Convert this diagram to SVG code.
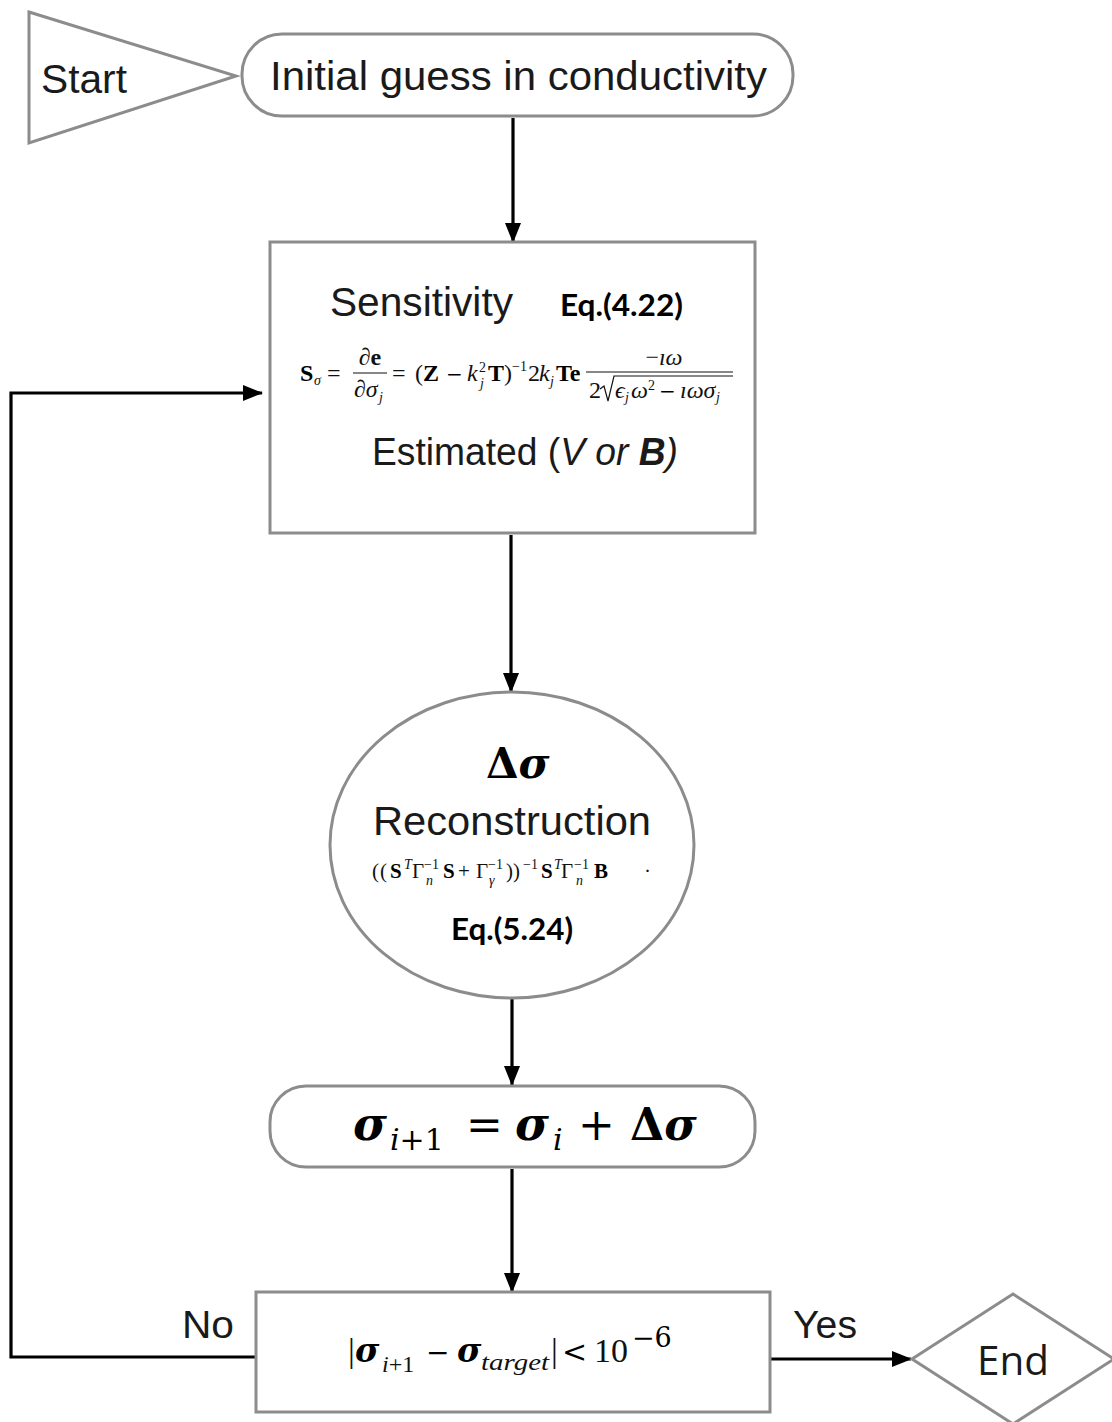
<svg xmlns="http://www.w3.org/2000/svg" width="1112" height="1422" viewBox="0 0 1112 1422">
<defs>
<marker id="ah" markerUnits="userSpaceOnUse" markerWidth="20" markerHeight="16" refX="19" refY="8" orient="auto">
<path d="M0,0 L20,8 L0,16 z" fill="#000"/>
</marker>
<style>
.shape{fill:#fff;stroke:#8c8c8c;stroke-width:3}
.conn{fill:none;stroke:#000;stroke-width:3.2;marker-end:url(#ah)}
.lbl{font-family:"Liberation Sans",Arial,sans-serif;fill:#1a1a1a}
.eq{font-family:Lato,"Liberation Sans",sans-serif;font-weight:bold;fill:#000}
.m{font-family:"Liberation Serif","DejaVu Serif",serif;fill:#111}
.mb{font-family:"Liberation Serif","DejaVu Serif",serif;font-weight:bold;fill:#000}
.d{font-family:"DejaVu Serif","Liberation Serif",serif;fill:#000}
.dbi{font-family:"DejaVu Serif","Liberation Serif",serif;font-weight:bold;font-style:italic;fill:#000}
.it{font-style:italic}
.b{font-weight:bold}
</style>
</defs>
<rect width="1112" height="1422" fill="#fff"/>

<g id="connectors">
<path class="conn" d="M513,118 V242"/>
<path class="conn" d="M511,535 V692"/>
<path class="conn" d="M512,998 V1085"/>
<path class="conn" d="M512,1169 V1292"/>
<path class="conn" d="M260,1357 H11 V393 H262"/>
<path class="conn" d="M767,1359 H911"/>
<text class="lbl" x="182" y="1338" font-size="39" textLength="52" lengthAdjust="spacingAndGlyphs">No</text>
<text class="lbl" x="793" y="1338" font-size="39" textLength="64" lengthAdjust="spacingAndGlyphs">Yes</text>
</g>

<g id="start">
<polygon class="shape" points="29,12 236,76 29,143"/>
<text class="lbl" x="41" y="93" font-size="40" textLength="86" lengthAdjust="spacingAndGlyphs">Start</text>
</g>

<g id="initial">
<rect class="shape" x="242" y="34" width="551" height="82" rx="40"/>
<text class="lbl" x="270" y="90" font-size="41" textLength="497" lengthAdjust="spacingAndGlyphs">Initial guess in conductivity</text>
</g>

<g id="sensitivity">
<rect class="shape" x="270" y="242" width="485" height="291"/>
<text class="lbl" x="330" y="316" font-size="40" textLength="183" lengthAdjust="spacingAndGlyphs">Sensitivity</text>
<text class="eq" x="560" y="316" font-size="31" textLength="123" lengthAdjust="spacingAndGlyphs">Eq.(4.22)</text>
<g font-size="24">
<text class="mb" x="300" y="381">S</text>
<text class="m it" x="314" y="385" font-size="14">σ</text>
<text class="m" x="327" y="381">=</text>
<text class="m" x="370" y="365" text-anchor="middle">∂<tspan class="b" font-style="normal">e</tspan></text>
<line x1="353" y1="373" x2="387" y2="373" stroke="#111" stroke-width="1.2"/>
<text class="m" x="354" y="397">∂<tspan class="it">σ</tspan></text>
<text class="m it" x="379" y="402" font-size="14">j</text>
<text class="m" x="392" y="381">=</text>
<text class="m" x="415" y="381">(</text>
<text class="mb" x="423" y="381">Z</text>
<text class="d" x="446" y="381" font-size="20">−</text>
<text class="m it" x="467" y="381">k</text>
<text class="m" x="479" y="372" font-size="14">2</text>
<text class="m it" x="480" y="388" font-size="14">j</text>
<text class="mb" x="488" y="381">T</text>
<text class="m" x="504" y="381">)</text>
<text class="m" x="512" y="371" font-size="14">−1</text>
<text class="m" x="528" y="381">2</text>
<text class="m it" x="539" y="381">k</text>
<text class="m it" x="550" y="386" font-size="14">j</text>
<text class="mb" x="556" y="381">Te</text>
<text class="m" x="664" y="365" text-anchor="middle">−<tspan class="it">ıω</tspan></text>
<line x1="586" y1="372" x2="733" y2="372" stroke="#111" stroke-width="1.2"/>
<text class="m" x="589" y="398">2</text>
<path d="M600,389 L604,386 L608,401 L614,376 H733" fill="none" stroke="#111" stroke-width="1.2"/>
<text class="m it" x="615" y="398">ϵ</text>
<text class="m it" x="625" y="402" font-size="14">j</text>
<text class="m it" x="631" y="398">ω</text>
<text class="m" x="648" y="390" font-size="14">2</text>
<text class="d" x="659" y="398" font-size="20">−</text>
<text class="m it" x="680" y="398">ıωσ</text>
<text class="m it" x="716" y="402" font-size="14">j</text>
</g>
<text class="lbl" x="372" y="465" font-size="38" textLength="306" lengthAdjust="spacingAndGlyphs">Estimated (<tspan class="it">V or </tspan><tspan class="it b">B</tspan><tspan class="it">)</tspan></text>
</g>

<g id="reconstruction">
<ellipse class="shape" cx="512" cy="845" rx="182" ry="153"/>
<text class="dbi" x="486" y="778" font-size="42"><tspan font-style="normal">Δ</tspan>σ</text>
<text class="lbl" x="373" y="835" font-size="41" textLength="278" lengthAdjust="spacingAndGlyphs">Reconstruction</text>
<g font-size="21">
<text class="m" x="372" y="878">(</text>
<text class="m" x="380" y="878">(</text>
<text class="mb" x="390" y="878">S</text>
<text class="m it" x="404" y="869" font-size="14">T</text>
<text class="m" x="412" y="878">Γ</text>
<text class="m" x="424" y="869" font-size="14">−1</text>
<text class="m it" x="426" y="885" font-size="14">n</text>
<text class="mb" x="443" y="878">S</text>
<text class="m" x="458" y="878">+</text>
<text class="m" x="476" y="878">Γ</text>
<text class="m" x="488" y="869" font-size="14">−1</text>
<text class="m it" x="489" y="885" font-size="14">γ</text>
<text class="m" x="506" y="878">))</text>
<text class="m" x="523" y="869" font-size="14">−1</text>
<text class="mb" x="541" y="878">S</text>
<text class="m it" x="554" y="869" font-size="14">T</text>
<text class="m" x="561" y="878">Γ</text>
<text class="m" x="574" y="869" font-size="14">−1</text>
<text class="m it" x="576" y="885" font-size="14">n</text>
<text class="mb" x="594" y="878">B</text>
<text class="m" x="644" y="878" fill="#999">·</text>
</g>
<text class="eq" x="451" y="940" font-size="31" textLength="122" lengthAdjust="spacingAndGlyphs">Eq.(5.24)</text>
</g>

<g id="update">
<rect class="shape" x="270" y="1086" width="485" height="81" rx="36"/>
<text class="dbi" x="353" y="1140" font-size="46">σ</text>
<text class="d it" x="390" y="1150" font-size="30">i<tspan font-style="normal">+1</tspan></text>
<text class="d" x="466" y="1140" font-size="44">=</text>
<text class="dbi" x="515" y="1140" font-size="46">σ</text>
<text class="d it" x="553" y="1150" font-size="30">i</text>
<text class="d" x="578" y="1140" font-size="44">+</text>
<text class="dbi" x="630" y="1140" font-size="44"><tspan font-style="normal">Δ</tspan>σ</text>
</g>

<g id="check">
<rect class="shape" x="256" y="1292" width="514" height="120"/>
<text class="m" x="348" y="1362" font-size="34" fill="#000">|</text>
<text class="dbi" x="355" y="1362" font-size="33">σ</text>
<text class="m it" x="382" y="1372" font-size="24" fill="#000">i<tspan font-style="normal">+1</tspan></text>
<text class="d" x="426" y="1362" font-size="28">−</text>
<text class="dbi" x="457" y="1362" font-size="33">σ</text>
<text class="m it" x="481" y="1370" font-size="24" fill="#000" textLength="68" lengthAdjust="spacingAndGlyphs">target</text>
<text class="m" x="551" y="1362" font-size="34" fill="#000">|</text>
<text class="d" x="562" y="1362" font-size="30">&lt;</text>
<text class="m" x="594" y="1362" font-size="34" fill="#000">10</text>
<text class="d" x="632" y="1347" font-size="27">−6</text>
</g>

<g id="end">
<polygon class="shape" points="912,1359 1013,1294 1114,1359 1013,1424"/>
<text x="977" y="1375" font-family="'Open Sans','Liberation Sans',sans-serif" font-size="40" fill="#1a1a1a" textLength="72" lengthAdjust="spacingAndGlyphs">End</text>
</g>
</svg>
